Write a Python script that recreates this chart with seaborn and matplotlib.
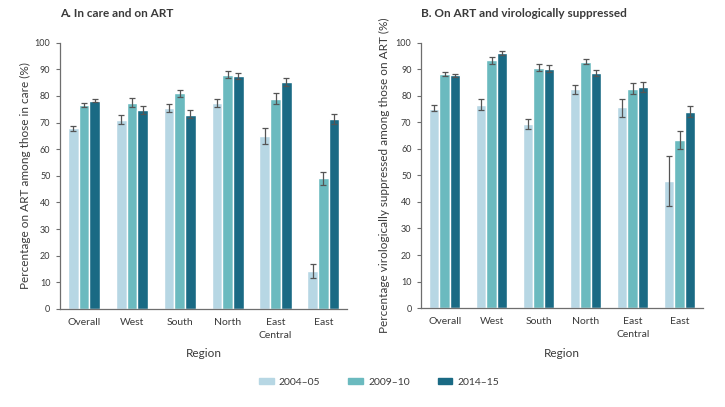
"""
ART coverage and viral suppression by region, three survey periods
"""

import pandas as pd
import matplotlib
matplotlib.use('Agg')
import matplotlib.pyplot as plt
import seaborn as sns

regions = ['Overall', 'West', 'South', 'North', 'East\nCentral', 'East']
periods = ['2004–05', '2009–10', '2014–15']
colors = ['#b7d7e4', '#6bbabf', '#1a6a84']

# Panel A: in care and on ART (value, lower, upper)
art_0405 = [67.8, 71.0, 75.5, 77.3, 65.0, 14.2]
art_0405_lo = [66.8, 69.5, 74.0, 75.8, 62.0, 11.8]
art_0405_hi = [68.8, 72.7, 77.0, 79.0, 68.0, 16.8]
art_0910 = [76.7, 77.5, 81.0, 88.0, 78.8, 49.1]
art_0910_lo = [76.0, 76.0, 79.6, 86.8, 76.8, 46.6]
art_0910_hi = [77.5, 79.2, 82.4, 89.2, 81.0, 51.6]
art_1415 = [78.2, 74.7, 73.0, 87.4, 85.2, 71.5]
art_1415_lo = [77.6, 73.2, 71.6, 86.2, 83.8, 69.6]
art_1415_hi = [78.9, 76.2, 74.6, 88.6, 86.6, 73.4]

# Panel B: on ART and virologically suppressed
vs_0405 = [75.2, 76.6, 69.3, 82.5, 75.6, 47.9]
vs_0405_lo = [74.2, 74.6, 67.4, 80.7, 72.2, 38.5]
vs_0405_hi = [76.4, 78.8, 71.4, 84.2, 78.8, 57.3]
vs_0910 = [88.1, 93.4, 90.5, 92.8, 82.6, 63.2]
vs_0910_lo = [87.4, 92.0, 89.3, 91.8, 80.5, 59.8]
vs_0910_hi = [89.0, 94.6, 91.8, 94.0, 84.8, 66.8]
vs_1415 = [87.7, 96.0, 90.2, 88.7, 83.3, 74.0]
vs_1415_lo = [87.0, 95.3, 89.0, 87.6, 81.5, 72.0]
vs_1415_hi = [88.4, 96.8, 91.5, 89.9, 85.2, 76.2]


def long_frame(vals, los, his):
    rows = []
    for p, v, lo, hi in zip(periods, vals, los, his):
        for r, a, b, c in zip(regions, v, lo, hi):
            rows.append({'region': r, 'period': p, 'value': a, 'lo': b, 'hi': c})
    return pd.DataFrame(rows)


df_a = long_frame([art_0405, art_0910, art_1415],
                  [art_0405_lo, art_0910_lo, art_1415_lo],
                  [art_0405_hi, art_0910_hi, art_1415_hi])
df_b = long_frame([vs_0405, vs_0910, vs_1415],
                  [vs_0405_lo, vs_0910_lo, vs_1415_lo],
                  [vs_0405_hi, vs_0910_hi, vs_1415_hi])

sns.set_style('white')
plt.rcParams['font.family'] = ['Lato', 'DejaVu Sans']
text_col = '#3a3a3a'
spine_col = '#6e6e6e'

fig = plt.figure(figsize=(7.25, 4.07), dpi=100)
ax_a = fig.add_axes([0.083, 0.241, 0.396, 0.654])
ax_b = fig.add_axes([0.581, 0.243, 0.389, 0.652])

panels = [
    (ax_a, df_a, 'A. In care and on ART', 'Percentage on ART among those in care (%)', 3),
    (ax_b, df_b, 'B. On ART and virologically suppressed',
     'Percentage virologically suppressed among those on ART (%)', 4),
]

for ax, df, title, ylabel, ypad in panels:
    sns.barplot(data=df, x='region', y='value', hue='period', order=regions,
                hue_order=periods, palette=colors, width=0.67, errorbar=None,
                saturation=1, legend=False, ax=ax)
    for cont, p in zip(ax.containers, periods):
        sub = df[df['period'] == p].set_index('region').loc[regions]
        xs = [bar.get_x() + bar.get_width() / 2 for bar in cont]
        ax.errorbar(xs, sub['value'],
                    yerr=[sub['value'] - sub['lo'], sub['hi'] - sub['value']],
                    fmt='none', ecolor='#555555', elinewidth=0.9, capsize=2,
                    capthick=0.9)
    ax.set_ylim(0, 100)
    ax.set_xlim(-0.5, 5.5)
    ax.set_yticks(range(0, 101, 10))
    ax.tick_params(axis='y', left=True, length=3, width=0.8, color=spine_col,
                   labelsize=6.5, labelcolor=text_col, pad=4)
    ax.tick_params(axis='x', bottom=False, labelsize=7.5, labelcolor=text_col, pad=3)
    for lbl in ax.get_xticklabels():
        lbl.set_linespacing(1.6)
    for s in ['top', 'right']:
        ax.spines[s].set_visible(False)
    for s in ['left', 'bottom']:
        ax.spines[s].set_color(spine_col)
        ax.spines[s].set_linewidth(0.9)
    ax.set_xlabel('Region', fontsize=8.5, color=text_col, labelpad=6)
    ax.set_ylabel(ylabel, fontsize=8.5, color=text_col, labelpad=ypad)
    ax.set_title(title, loc='left', fontsize=8.5, fontweight='bold', color=text_col,
                 x=0.0, y=1.065)

handles = [plt.Rectangle((0, 0), 1, 1, color=c) for c in colors]
fig.legend(handles, periods, loc='center', bbox_to_anchor=(0.523, 0.061), ncol=3,
           frameon=False, fontsize=7.5, handlelength=1.4, handleheight=0.6,
           columnspacing=2.7, handletextpad=0.5, labelcolor=text_col)

fig.savefig('out.png', dpi=100)
